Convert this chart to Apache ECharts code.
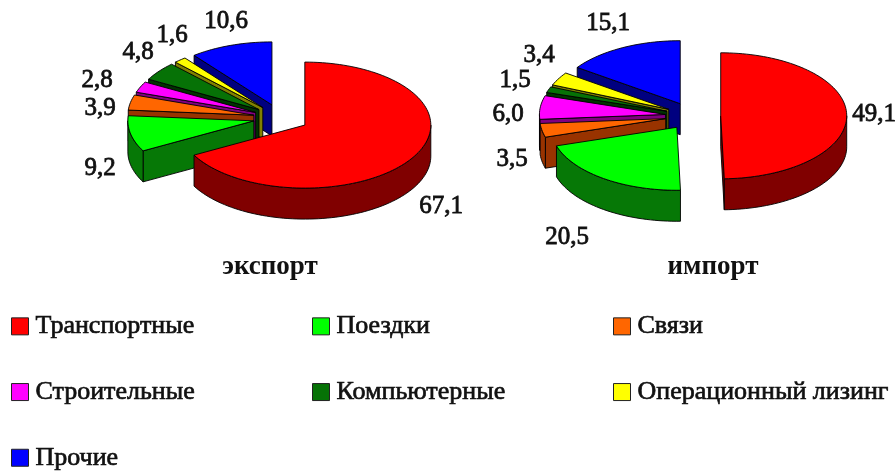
<!DOCTYPE html>
<html><head><meta charset="utf-8">
<style>html,body{margin:0;padding:0;background:#fff}#c{width:896px;height:471px}</style>
<script src="https://cdn.jsdelivr.net/npm/echarts@6/dist/echarts.min.js"></script>
</head><body><div id="c"></div>
<script>
const categories = ['Транспортные','Поездки','Связи','Строительные','Компьютерные','Операционный лизинг','Прочие'];
const exportValues = [67.1, 9.2, 3.9, 2.8, 4.8, 1.6, 10.6];
const importValues = [49.1, 20.5, 3.5, 6.0, 1.5, 3.4, 15.1];
const pieTitles = ['экспорт','импорт'];
const topColors = ['#ff0000','#00ff00','#ff6600','#ff00ff','#067206','#ffff00','#0000ff'];
const sideColors = ['#800000','#067806','#993300','#800080','#003300','#808000','#000080'];

const pies = [
  {values: exportValues, cx: 281, cy: 118, labels: [[441,206],[100,168],[100,108],[97,80],[138,52],[172,35],[226,21]]},
  {values: importValues, cx: 693, cy: 116, labels: [[874,114],[567,237],[512,159],[508,114],[515,80],[539,55],[608,23]]}
];
const RX = 126, RY = 63, DEPTH = 31, EXPLODE = 0.22;
const fmt = v => v.toFixed(1).replace('.', ',');

function spans(values) {
  const total = values.reduce((a, b) => a + b, 0);
  let acc = 0;
  return values.map(v => { const s = acc / total; acc += v; return [s * 360, acc / total * 360]; });
}
const pt = (ax, ay, t, dy) => [ax + RX * Math.sin(t * Math.PI / 180), ay - RY * Math.cos(t * Math.PI / 180) + (dy || 0)];
function arc(ax, ay, a, b, dy) {
  const n = Math.max(2, Math.ceil(Math.abs(b - a) / 2)), out = [];
  for (let i = 0; i <= n; i++) out.push(pt(ax, ay, a + (b - a) * i / n, dy));
  return out;
}
const lineStyle = (fill) => ({fill, stroke: '#000', lineWidth: 0.9});

function makeRender(catIndex) {
  return function (params, api) {
    const p = pies[api.value(0)], t0 = api.value(1), t1 = api.value(2);
    const mid = (t0 + t1) / 2 * Math.PI / 180;
    const ax = p.cx + EXPLODE * RX * Math.sin(mid), ay = p.cy - EXPLODE * RY * Math.cos(mid);
    const side = sideColors[catIndex], top = topColors[catIndex];
    const kids = [];
    const poly = (points, fill) => kids.push({type: 'polygon', shape: {points}, style: lineStyle(fill)});
    // radial walls: only those that face the viewer
    const wall = t => poly([[ax, ay], pt(ax, ay, t), pt(ax, ay, t, DEPTH), [ax, ay + DEPTH]], side);
    if (Math.sin(t0 * Math.PI / 180) < -1e-6) wall(t0);
    if (Math.sin(t1 * Math.PI / 180) > 1e-6) wall(t1);
    // outer rim (only the part that faces the viewer)
    const r0 = Math.max(t0, 90), r1 = Math.min(t1, 270);
    if (r1 > r0) poly(arc(ax, ay, r0, r1, 0).concat(arc(ax, ay, r1, r0, DEPTH)), side);
    // top face
    poly([[ax, ay]].concat(arc(ax, ay, t0, t1, 0)), top);
    // value label
    const lp = p.labels[catIndex];
    kids.push({type: 'text', z2: 100, style: {x: lp[0], y: lp[1], text: fmt(p.values[catIndex]), align: 'center', verticalAlign: 'middle',
      fill: '#111', font: '25px "Liberation Serif"', stroke: '#111', lineWidth: 0.8}});
    return {type: 'group', children: kids};
  };
}

const series = categories.map((name, i) => ({
  type: 'custom', name, coordinateSystem: 'none', silent: true, animation: false,
  z: 10 - i, itemStyle: {color: topColors[i]}, clip: false,
  renderItem: makeRender(i),
  data: pies.map((p, k) => { const s = spans(p.values)[i]; return [k, s[0], s[1]]; })
}));

const legendBase = {orient: 'vertical', selectedMode: false, icon: 'rect', itemWidth: 17, itemHeight: 17, itemGap: 39, padding: 0, height: 170,
  textStyle: {fontFamily: '"Liberation Serif"', fontSize: 26, color: '#111', padding: [0,0,0,2], textBorderColor: '#111', textBorderWidth: 0.7},
  itemStyle: {borderColor: '#222', borderWidth: 1}};

const option = {
  animation: false, backgroundColor: '#fff',
  title: pieTitles.map((text, i) => ({text, left: [270, 713][i], top: 254, textAlign: 'center', padding: 0,
    textStyle: {fontFamily: '"Liberation Serif"', fontWeight: 'bold', fontSize: 27, color: '#111'}})),
  legend: [
    Object.assign({}, legendBase, {left: 11, top: 313, data: [categories[0], categories[3], categories[6]]}),
    Object.assign({}, legendBase, {left: 312, top: 313, data: [categories[1], categories[4]]}),
    Object.assign({}, legendBase, {left: 613, top: 313, data: [categories[2], categories[5]]})
  ],
  series
};
echarts.init(document.getElementById('c'), null, {renderer: 'canvas'}).setOption(option);
</script></body></html>
